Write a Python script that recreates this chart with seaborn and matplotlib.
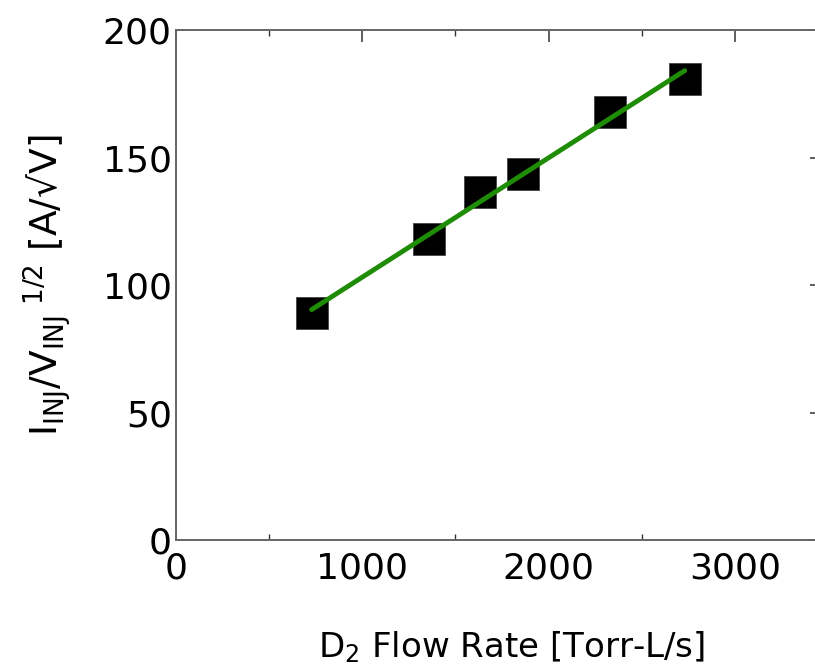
import numpy as np
import pandas as pd
import matplotlib
matplotlib.use("Agg")
import matplotlib.pyplot as plt
import seaborn as sns

# Measured injector data
flow_rate = [728, 1358, 1633, 1863, 2331, 2731]          # D2 flow rate [Torr-L/s]
perveance = [89.2, 118.0, 136.7, 143.5, 168.0, 181.0]    # I_INJ / V_INJ^(1/2) [A/sqrt(V)]

x_ticks = [0, 1000, 2000, 3000]
y_ticks = [0, 50, 100, 150, 200]

df = pd.DataFrame({"flow": flow_rate, "perv": perveance})

sns.set_theme(style="white")
plt.rcParams["font.family"] = ["DejaVu Sans"]
plt.rcParams["mathtext.fontset"] = "dejavusans"

fig = plt.figure(figsize=(8.15, 6.7), dpi=100)
ax = fig.add_axes([0.216, 0.1933, 0.792, 0.7617])

# data points
sns.scatterplot(data=df, x="flow", y="perv", marker="s", s=520, color="black",
                edgecolor="#444444", linewidth=0.6, ax=ax, zorder=2)

# linear fit through the points
sns.regplot(data=df, x="flow", y="perv", ci=None, scatter=False, truncate=True,
            line_kws=dict(color="#1f8c06", linewidth=3.5, solid_capstyle="round", zorder=3),
            ax=ax)

ax.set_xlim(0, 3465)
ax.set_ylim(0, 200)
ax.set_xticks(x_ticks)
ax.set_xticks([500, 1500, 2500], minor=True)
ax.set_yticks(y_ticks)

ax.tick_params(axis="both", which="major", direction="in", length=8.5, width=1.1,
               color="#333333", labelsize=26, pad=6, top=True, right=True,
               labelcolor="black")
ax.tick_params(axis="x", which="minor", direction="in", length=4.3, width=1.0,
               color="#333333", top=True, bottom=True)
ax.tick_params(axis="x", pad=8)
ax.tick_params(axis="y", pad=3)

for sp in ax.spines.values():
    sp.set_color("#666666")
    sp.set_linewidth(1.4)

ax.set_xlabel(r"D$_2$ Flow Rate [Torr-L/s]", fontsize=24.5, labelpad=0, color="black")
ax.set_ylabel(r"I$_{\mathregular{INJ}}$/V$_{\mathregular{INJ}}$$^{\mathregular{\ 1/2}}$ [A/√V]",
              fontsize=27, labelpad=0, color="black")
ax.xaxis.set_label_coords(0.52, -0.175)
ax.yaxis.set_label_coords(-0.16, 0.5)

fig.savefig("out.png", dpi=100, facecolor="white")
